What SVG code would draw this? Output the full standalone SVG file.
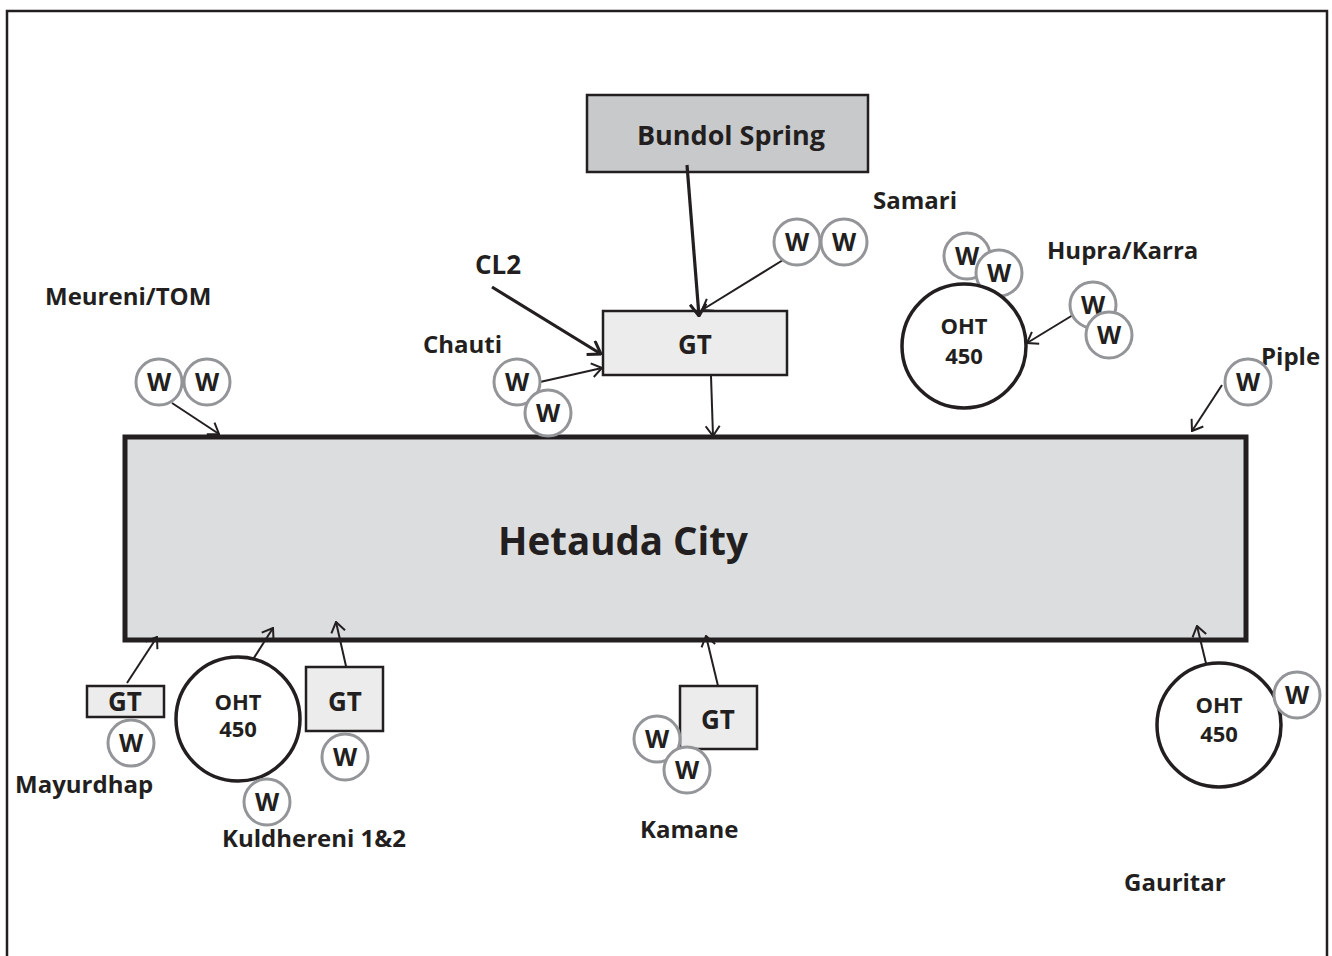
<svg xmlns="http://www.w3.org/2000/svg" width="1332" height="956" viewBox="0 0 1332 956">
<defs>
<style>
text{font-family:"Open Sans","Noto Sans","Liberation Sans",sans-serif;font-weight:700;fill:#231f20}
.lbl{font-size:24px}
.w circle{fill:#fff;stroke:#939598;stroke-width:3}
.w text{font-size:25px;text-anchor:middle}
.oht circle{fill:#fff;stroke:#231f20;stroke-width:3.5}
.oht text{font-size:22px;text-anchor:middle}
.gt rect{fill:#ececec;stroke:#231f20;stroke-width:2.5}
.gt text{font-size:26px;text-anchor:middle}
.c{stroke:#231f20;stroke-width:2;fill:none;marker-end:url(#ah)}
.ct{stroke:#231f20;stroke-width:3.2;fill:none;marker-end:url(#ah2)}
</style>
<marker id="ah" viewBox="0 0 12 16" refX="11" refY="8" markerWidth="12" markerHeight="16" markerUnits="userSpaceOnUse" orient="auto">
<path d="M1,1 L11,8 L1,15" fill="none" stroke="#231f20" stroke-width="2"/>
</marker>
<marker id="ah2" viewBox="0 0 14 18" refX="13" refY="9" markerWidth="14" markerHeight="18" markerUnits="userSpaceOnUse" orient="auto">
<path d="M1,1 L13,9 L1,17" fill="none" stroke="#231f20" stroke-width="3"/>
</marker>
</defs>
<rect width="1332" height="956" fill="#fff"/>
<path d="M7,960 V11 H1327 V960" fill="none" stroke="#231f20" stroke-width="2.5"/>

<g id="city">
<rect x="125" y="437" width="1121" height="203" fill="#dcdddf" stroke="#231f20" stroke-width="5"/>
<text x="623" y="555" font-size="38.5" text-anchor="middle">Hetauda City</text>
</g>

<g id="bundol">
<rect x="587" y="95" width="281" height="77" fill="#c8c9cb" stroke="#231f20" stroke-width="2.5"/>
<text x="731" y="145" font-size="27" text-anchor="middle">Bundol Spring</text>
</g>

<g id="gt-main" class="gt">
<rect x="603" y="311" width="184" height="64"/>
<text x="695" y="354">GT</text>
</g>

<g id="connectors">
<line class="ct" x1="687" y1="165" x2="699" y2="316"/>
<line class="ct" x1="492" y1="287" x2="601" y2="354"/>
<line class="c" x1="783" y1="260" x2="702" y2="310"/>
<line class="c" x1="540" y1="382" x2="602" y2="368"/>
<line class="c" x1="711" y1="376" x2="713" y2="436"/>
<line class="c" x1="1073" y1="315" x2="1027" y2="343"/>
<line class="c" x1="1222" y1="385" x2="1192" y2="431"/>
<line class="c" x1="172" y1="403" x2="219" y2="434"/>
<line class="c" x1="127" y1="683" x2="157" y2="637"/>
<line class="c" x1="243" y1="675" x2="273" y2="628"/>
<line class="c" x1="348" y1="675" x2="336" y2="622"/>
<line class="c" x1="719" y1="690" x2="706" y2="636"/>
<line class="c" x1="1210" y1="680" x2="1197" y2="626"/>
</g>

<g id="samari">
<text class="lbl" x="873" y="209">Samari</text>
<g class="w"><circle cx="797" cy="242" r="23"/><text x="797" y="251">W</text></g>
<g class="w"><circle cx="844" cy="242" r="23"/><text x="844" y="251">W</text></g>
</g>

<g id="cl2"><text x="475" y="274" font-size="26">CL2</text></g>

<g id="chauti">
<text class="lbl" x="423" y="353">Chauti</text>
<g class="w"><circle cx="517" cy="382" r="23"/><text x="517" y="391">W</text></g>
<g class="w"><circle cx="548" cy="413" r="23"/><text x="548" y="422">W</text></g>
</g>

<g id="meureni">
<text class="lbl" x="45" y="305">Meureni/TOM</text>
<g class="w"><circle cx="159" cy="382" r="23"/><text x="159" y="391">W</text></g>
<g class="w"><circle cx="207" cy="382" r="23"/><text x="207" y="391">W</text></g>
</g>

<g id="hupra">
<text class="lbl" x="1047" y="259">Hupra/Karra</text>
<g class="w"><circle cx="967" cy="256" r="23"/><text x="967" y="265">W</text></g>
<g class="w"><circle cx="999" cy="273" r="23"/><text x="999" y="282">W</text></g>
<g class="oht"><circle cx="964" cy="346" r="62"/><text x="964" y="334">OHT</text><text x="964" y="364">450</text></g>
<g class="w"><circle cx="1093" cy="305" r="23"/><text x="1093" y="314">W</text></g>
<g class="w"><circle cx="1109" cy="335" r="23"/><text x="1109" y="344">W</text></g>
</g>

<g id="piple">
<text class="lbl" x="1261" y="365">Piple</text>
<g class="w"><circle cx="1248" cy="382" r="23"/><text x="1248" y="391">W</text></g>
</g>

<g id="mayurdhap">
<g class="gt"><rect x="87" y="686" width="77" height="31"/><text x="125" y="711">GT</text></g>
<g class="w"><circle cx="131" cy="743" r="23"/><text x="131" y="752">W</text></g>
<text class="lbl" x="15" y="793">Mayurdhap</text>
</g>

<g id="kuldhereni">
<g class="oht"><circle cx="238" cy="719" r="62"/><text x="238" y="710">OHT</text><text x="238" y="737">450</text></g>
<g class="gt"><rect x="306" y="667" width="77" height="64"/><text x="345" y="711">GT</text></g>
<g class="w"><circle cx="345" cy="757" r="23"/><text x="345" y="766">W</text></g>
<g class="w"><circle cx="267" cy="802" r="23"/><text x="267" y="811">W</text></g>
<text class="lbl" x="222" y="847">Kuldhereni 1&amp;2</text>
</g>

<g id="kamane">
<g class="gt"><rect x="680" y="686" width="77" height="63"/><text x="718" y="729">GT</text></g>
<g class="w"><circle cx="657" cy="739" r="23"/><text x="657" y="748">W</text></g>
<g class="w"><circle cx="687" cy="770" r="23"/><text x="687" y="779">W</text></g>
<text class="lbl" x="640" y="838">Kamane</text>
</g>

<g id="gauritar">
<g class="oht"><circle cx="1219" cy="725" r="62"/><text x="1219" y="713">OHT</text><text x="1219" y="742">450</text></g>
<g class="w"><circle cx="1297" cy="695" r="23"/><text x="1297" y="704">W</text></g>
<text class="lbl" x="1124" y="891">Gauritar</text>
</g>
</svg>
